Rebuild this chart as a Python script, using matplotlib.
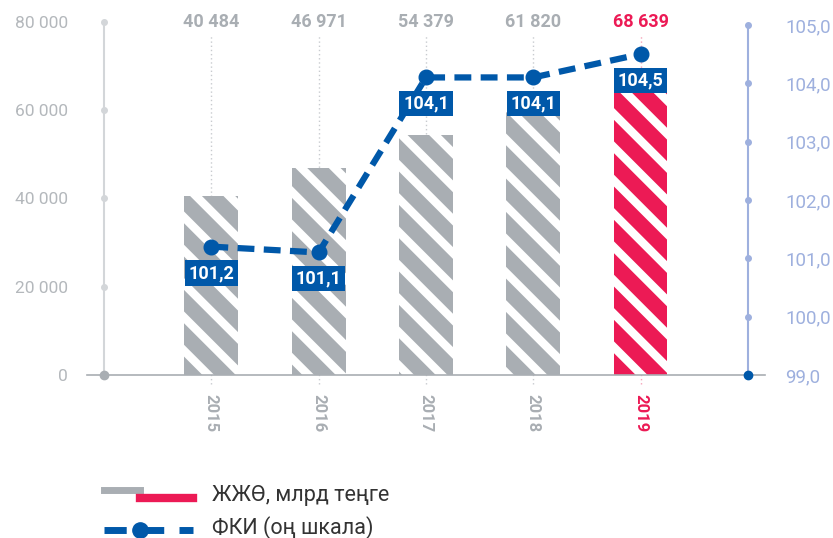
import numpy as np
import matplotlib.pyplot as plt
from matplotlib.lines import Line2D

plt.rcParams['font.family'] = ['Roboto', 'DejaVu Sans']
plt.rcParams['hatch.linewidth'] = 6

years = ['2015', '2016', '2017', '2018', '2019']
gdp = [40484, 46971, 54379, 61820, 68639]
gdp_labels = ['40 484', '46 971', '54 379', '61 820', '68 639']
cpi = [101.2, 101.1, 104.1, 104.1, 104.5]
cpi_labels = ['101,2', '101,1', '104,1', '104,1', '104,5']
left_ticks = [0, 20000, 40000, 60000, 80000]
right_ticks = [99, 100, 101, 102, 103, 104, 105]

GRAY = '#a9aeb3'
RED = '#ec1a55'
BLUE = '#0058a9'
AXGRAY = '#d3d6d9'
AXBLUE = '#9eb0de'

fig = plt.figure(figsize=(8.33, 5.38), dpi=100)
ax = fig.add_axes([104 / 833, 1 - 375 / 538, (748 - 104) / 833, (375 - 22) / 538])
ax2 = ax.twinx()

x = np.arange(len(years))
colors = [GRAY] * 4 + [RED]
ax.bar(x, gdp, width=0.5, color=colors, edgecolor='white', linewidth=0, hatch='\\', zorder=2)

# dotted verticals
for i in x:
    ax.plot([i, i], [-2000, 77000], ls=(0, (1, 2)), lw=1,
            color='#f5a3b8' if i == 4 else '#c8cbcf', zorder=1, clip_on=False)

ax.set_xlim(-1, 5)
ax.set_ylim(0, 80000)
ax2.set_ylim(99, 105.05)

for a in (ax, ax2):
    for s in a.spines.values():
        s.set_visible(False)
ax.set_xticks([])

# left axis
ax.plot([-1] * len(left_ticks), left_ticks, color=AXGRAY, lw=1.5, marker='o', ms=4,
        clip_on=False, zorder=3)
ax.plot([-1], [0], 'o', color='#a9aeb3', ms=6, clip_on=False, zorder=4)
ax.set_yticks(left_ticks)
ax.set_yticklabels([f'{v:,}'.replace(',', ' ') for v in left_ticks])
ax.tick_params(axis='y', length=0, pad=26, labelsize=12.5, labelcolor='#b4b8bc')

# right axis
ax2.plot([5] * len(right_ticks), right_ticks, color=AXBLUE, lw=1.5, marker='o', ms=4,
         clip_on=False, zorder=3)
ax2.plot([5], [99], 'o', color=BLUE, ms=6, clip_on=False, zorder=4)
ax2.set_yticks(right_ticks)
ax2.set_yticklabels([f'{v:.1f}'.replace('.', ',') for v in right_ticks])
ax2.tick_params(axis='y', length=0, pad=27, labelsize=13.5, labelcolor=AXBLUE)

# baseline
ax.plot([-1.16, 5.16], [0, 0], color='#a9aeb3', lw=1.2, clip_on=False, zorder=2)

# value labels on top
for i, lab in enumerate(gdp_labels):
    ax.text(i, 80000, lab, ha='center', va='center', fontsize=13, fontweight='bold',
            color=RED if i == 4 else '#a9aeb3')

# year labels
for i, y in enumerate(years):
    ax.text(i, -4300, y, ha='center', va='top', rotation=270, fontsize=12,
            fontweight='bold', color=RED if i == 4 else '#a9aeb3')

# cpi line
ax2.plot(x, cpi, color=BLUE, lw=4.5, ls=(0, (2.7, 1.5)), marker='o', ms=10.5, zorder=5)
for i, (v, lab) in enumerate(zip(cpi, cpi_labels)):
    ax2.annotate(lab, (i, v), xytext=(0, -19), textcoords='offset points', ha='center',
                 va='center', fontsize=13, fontweight='bold', color='white', zorder=6,
                 bbox=dict(boxstyle='square,pad=0.2', fc=BLUE, ec='none'))

# legend
fig.add_artist(Line2D([104 / 833, 140 / 833], [1 - 490 / 538] * 2, color=GRAY, lw=5))
fig.add_artist(Line2D([140 / 833, 193 / 833], [1 - 498 / 538] * 2, color=RED, lw=6))
fig.add_artist(Line2D([104 / 833, 193 / 833], [1 - 530 / 538] * 2, color=BLUE, lw=5,
                      ls=(0, (3.2, 2.2))))
fig.add_artist(Line2D([140 / 833], [1 - 530 / 538], color=BLUE, marker='o', ms=11, lw=0))
fig.text(212 / 833, 1 - 496 / 538, 'ЖЖӨ, млрд теңге', fontsize=15.5, color='#333333', va='center')
fig.text(212 / 833, 1 - 528 / 538, 'ФКИ (оң шкала)', fontsize=15.5, color='#333333', va='center')

fig.savefig('out.png', dpi=100)
